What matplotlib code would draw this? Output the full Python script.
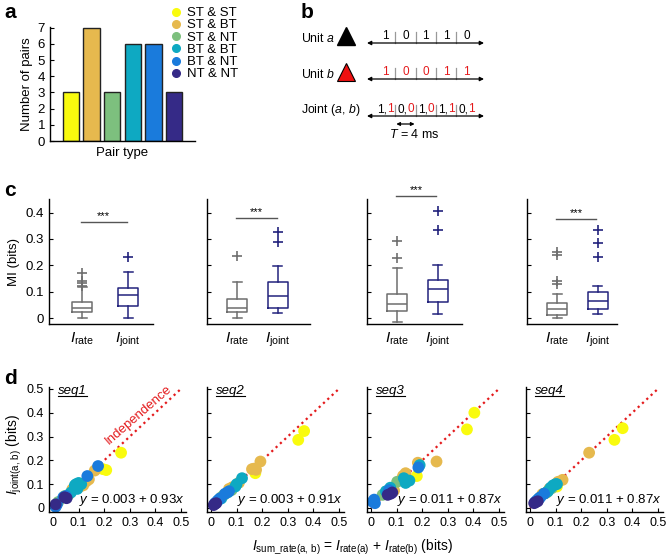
import numpy as np
import matplotlib
matplotlib.use('Agg')
import matplotlib.pyplot as plt
from matplotlib.lines import Line2D

plt.rcParams['font.family'] = ['Liberation Sans', 'DejaVu Sans']
plt.rcParams['mathtext.fontset'] = 'custom'
plt.rcParams['mathtext.rm'] = 'Liberation Sans'
plt.rcParams['mathtext.it'] = 'Liberation Sans:italic'
plt.rcParams['mathtext.bf'] = 'Liberation Sans:bold'
plt.rcParams['xtick.direction'] = 'in'
plt.rcParams['ytick.direction'] = 'in'
plt.rcParams['axes.linewidth'] = 1.0

W, H = 667, 557

# ---- panel a
pair_types = ['ST & ST', 'ST & BT', 'ST & NT', 'BT & BT', 'BT & NT', 'NT & NT']
pair_counts = [3, 7, 3, 6, 6, 3]
pair_colors = ['#F9FB0E', '#E6B94E', '#7DC07E', '#0EA9C2', '#1A7BDC', '#352A87']

# ---- panel b
unit_a = [1, 0, 1, 1, 0]
unit_b = [1, 0, 0, 1, 1]

# ---- panel c (box stats, one entry per sequence)
rate_med = [0.041, 0.041, 0.054, 0.035]
rate_q1 = [0.023, 0.023, 0.028, 0.013]
rate_q3 = [0.063, 0.072, 0.094, 0.057]
rate_lo = [0.0, 0.0, -0.014, 0.0]
rate_hi = [0.12, 0.139, 0.192, 0.092]
rate_fliers = [[0.17, 0.14, 0.132, 0.124], [0.237], [0.292, 0.23], [0.25, 0.24, 0.141, 0.131]]
joint_med = [0.089, 0.086, 0.11, 0.066]
joint_q1 = [0.048, 0.041, 0.061, 0.036]
joint_q3 = [0.116, 0.137, 0.145, 0.099]
joint_lo = [0.0, 0.02, 0.016, 0.018]
joint_hi = [0.177, 0.197, 0.2, 0.123]
joint_fliers = [[0.231], [0.325, 0.288], [0.406, 0.334], [0.334, 0.286, 0.233]]
sig_y = [0.365, 0.38, 0.462, 0.375]

# ---- panel d (pair order: 3 ST&ST, 7 ST&BT, 3 ST&NT, 6 BT&BT, 6 BT&NT, 3 NT&NT)
pair_idx = [0]*3 + [1]*7 + [2]*3 + [3]*6 + [4]*6 + [5]*3
seq_names = ['seq1', 'seq2', 'seq3', 'seq4']
fit_text = ['0.003 + 0.93', '0.003 + 0.91', '0.011 + 0.87', '0.011 + 0.87']
seq1_x = [0.195, 0.208, 0.266, 0.163, 0.14, 0.13, 0.118, 0.105, 0.075, 0.085, 0.02, 0.06, 0.045,
          0.09, 0.1, 0.085, 0.11, 0.07, 0.095, 0.176, 0.134, 0.04, 0.05, 0.01, 0.015, 0.053, 0.045, 0.01]
seq1_y = [0.163, 0.159, 0.232, 0.157, 0.12, 0.112, 0.095, 0.09, 0.078, 0.083, 0.025, 0.055, 0.05,
          0.1, 0.105, 0.095, 0.1, 0.065, 0.08, 0.176, 0.134, 0.045, 0.05, 0.005, 0.015, 0.041, 0.045, 0.015]
seq2_x = [0.341, 0.364, 0.173, 0.193, 0.16, 0.176, 0.168, 0.109, 0.083, 0.07, 0.05, 0.08, 0.04,
          0.121, 0.1, 0.095, 0.04, 0.03, 0.065, 0.025, 0.035, 0.055, 0.07, 0.015, 0.02, 0.015, 0.02, 0.01]
seq2_y = [0.286, 0.323, 0.146, 0.195, 0.163, 0.16, 0.165, 0.106, 0.087, 0.08, 0.055, 0.075, 0.045,
          0.125, 0.1, 0.09, 0.04, 0.035, 0.065, 0.03, 0.04, 0.06, 0.07, 0.02, 0.022, 0.017, 0.02, 0.012]
seq3_x = [0.404, 0.375, 0.179, 0.256, 0.183, 0.135, 0.125, 0.09, 0.083, 0.12, 0.045, 0.102, 0.06,
          0.135, 0.128, 0.19, 0.075, 0.058, 0.15, 0.185, 0.006, 0.012, 0.015, 0.065, 0.07, 0.077, 0.065, 0.083]
seq3_y = [0.40, 0.33, 0.134, 0.195, 0.19, 0.146, 0.135, 0.073, 0.078, 0.12, 0.055, 0.11, 0.07,
          0.105, 0.125, 0.18, 0.085, 0.07, 0.115, 0.17, 0.026, 0.035, 0.02, 0.06, 0.075, 0.06, 0.055, 0.065]
seq4_x = [0.362, 0.33, 0.105, 0.231, 0.127, 0.105, 0.048, 0.06, 0.11, 0.075, 0.085, 0.065, 0.035,
          0.08, 0.1, 0.09, 0.055, 0.07, 0.105, 0.02, 0.03, 0.04, 0.055, 0.025, 0.035, 0.016, 0.022, 0.03]
seq4_y = [0.335, 0.286, 0.09, 0.232, 0.118, 0.105, 0.058, 0.062, 0.11, 0.08, 0.083, 0.065, 0.04,
          0.085, 0.1, 0.095, 0.06, 0.07, 0.1, 0.025, 0.035, 0.045, 0.06, 0.03, 0.04, 0.02, 0.024, 0.028]
seq_x = [seq1_x, seq2_x, seq3_x, seq4_x]
seq_y = [seq1_y, seq2_y, seq3_y, seq4_y]

RATE_COL = '#6E6E6E'
JOINT_COL = '#23237D'
FS = 9.5


def pax(l, t, r, b):
    return fig.add_axes([l / W, 1 - b / H, (r - l) / W, (b - t) / H])


def clean(ax, fs=FS):
    ax.spines['top'].set_visible(False)
    ax.spines['right'].set_visible(False)
    ax.tick_params(labelsize=fs, length=3, width=0.8)


fig = plt.figure(figsize=(W / 100, H / 100), dpi=100)

# overlay for schematic + panel letters (pixel coords)
ov = fig.add_axes([0, 0, 1, 1])
ov.set_xlim(0, W)
ov.set_ylim(H, 0)
ov.axis('off')
ov.patch.set_alpha(0)
for lab, (px, py) in zip('abcd', [(4, 12), (301, 12), (4, 191), (4, 378)]):
    ov.text(px, py, lab, fontsize=15, fontweight='bold', va='center', ha='left')

# ---- a
ax = pax(50, 27, 195, 141)
clean(ax)
ax.bar(np.arange(1, 7), pair_counts, width=0.78, color=pair_colors, edgecolor='#222222', linewidth=1.0)
ax.set_xlim(0, 7)
ax.set_ylim(0, 7.05)
ax.set_xticks([])
ax.set_yticks(range(8))
ax.set_xlabel('Pair type', fontsize=FS, labelpad=4)
ax.set_ylabel('Number of pairs', fontsize=FS, labelpad=3)
handles = [Line2D([], [], ls='', marker='o', ms=5.5, color=c) for c in pair_colors]
ax.legend(handles, pair_types, loc='upper left', bbox_to_anchor=(172 / W, 1 - 7 / H),
          bbox_transform=fig.transFigure, frameon=False, fontsize=FS, handlelength=0.6,
          handletextpad=0.5, labelspacing=0.0, borderpad=0, borderaxespad=0)

# ---- b
FB = 8.5
cell_l, cell_w = 375, 20.3
line_y = [43, 79, 116]
rows = [('Unit $a$', 38), ('Unit $b$', 74), ('Joint $(a,\\,b)$', 110)]
for (txt, ty), ly in zip(rows, line_y):
    ov.text(301, ty, txt, fontsize=FB + 0.3, va='center', ha='left')
    ov.annotate('', xy=(484, ly), xytext=(367, ly),
                arrowprops=dict(arrowstyle='<|-|>', color='k', lw=0.9, mutation_scale=6, shrinkA=0, shrinkB=0))
    for k in range(1, 5):
        ov.plot([cell_l + k * cell_w] * 2, [ly - 11, ly], color='#999999', lw=0.9)
ov.plot(346, 36, marker='^', ms=13.5, color='k')
ov.plot(346, 72, marker='^', ms=13.5, mfc='#EE1111', mec='k', mew=0.8)
for k in range(5):
    cx = cell_l + (k + 0.5) * cell_w
    ov.text(cx, line_y[0] - 7, str(unit_a[k]), fontsize=FB, ha='center', va='center', color='k')
    ov.text(cx, line_y[1] - 7, str(unit_b[k]), fontsize=FB, ha='center', va='center', color='#E41A1C')
    ov.text(cx + 2, line_y[2] - 7, '%d,' % unit_a[k], fontsize=FB, ha='right', va='center', color='k')
    ov.text(cx + 2, line_y[2] - 7, '%d' % unit_b[k], fontsize=FB, ha='left', va='center', color='#E41A1C')
ov.annotate('', xy=(cell_l + 2 * cell_w - 1, 124), xytext=(cell_l + cell_w + 1, 124),
            arrowprops=dict(arrowstyle='<|-|>', color='k', lw=0.9, mutation_scale=5, shrinkA=0, shrinkB=0))
ov.text(414, 134, '$T$ = 4 ms', fontsize=FB + 0.5, ha='center', va='center')

# ---- c
c_boxes = [(49, 153, 0.28, 2.54), (207, 310, 0.25, 2.79), (367, 462, 0.24, 2.61), (527, 617, 0.26, 2.48)]
for i, (l, r, x0, x1) in enumerate(c_boxes):
    ax = pax(l, 199, r, 324)
    clean(ax)
    ax.set_xlim(x0, x1)
    ax.set_ylim(-0.021, 0.451)
    stats = [dict(med=rate_med[i], q1=rate_q1[i], q3=rate_q3[i], whislo=rate_lo[i], whishi=rate_hi[i],
                  fliers=rate_fliers[i]),
             dict(med=joint_med[i], q1=joint_q1[i], q3=joint_q3[i], whislo=joint_lo[i], whishi=joint_hi[i],
                  fliers=joint_fliers[i])]
    wpx = 20 / ((r - l) / (x1 - x0))
    for j, col in enumerate([RATE_COL, JOINT_COL]):
        ax.bxp([stats[j]], positions=[j + 1], widths=wpx, capwidths=wpx * 0.45, manage_ticks=False,
               boxprops=dict(color=col, lw=1.1), whiskerprops=dict(color=col, lw=1.1),
               capprops=dict(color=col, lw=1.1), medianprops=dict(color=col, lw=1.1),
               flierprops=dict(marker='+', markeredgecolor=col, markersize=7, mew=1.2))
    ax.set_xticks([1, 2])
    ax.set_xticklabels([r'$I_{\rm rate}$', r'$I_{\rm joint}$'], fontsize=11)
    ax.tick_params(axis='x', length=0, pad=5)
    ax.set_yticks([0, 0.1, 0.2, 0.3, 0.4])
    if i == 0:
        ax.set_yticklabels(['0', '0.1', '0.2', '0.3', '0.4'])
        ax.set_ylabel('MI (bits)', fontsize=FS, labelpad=4)
    else:
        ax.set_yticklabels([])
    ax.plot([1 - 0.03, 2 - 0.03], [sig_y[i]] * 2, color='#555555', lw=1.0, clip_on=False)
    ax.text(1.47, sig_y[i] + 0.004, '***', fontsize=8, ha='center', va='bottom')

# ---- d
seq_texts = []
d_left = [49, 207, 367, 526]
for i, l in enumerate(d_left):
    ax = pax(l, 387, l + 137, 512)
    clean(ax, 9)
    ax.set_xlim(-0.016, 0.52)
    ax.set_ylim(-0.017, 0.508)
    ax.plot([0, 0.5], [0, 0.5], color='#E41A1C', ls=':', lw=1.6, zorder=1)
    cols = [pair_colors[k] for k in pair_idx]
    ax.scatter(seq_x[i], seq_y[i], s=72, c=cols, edgecolors='none', zorder=2)
    ticks = [0, 0.1, 0.2, 0.3, 0.4, 0.5]
    tl = ['0', '0.1', '0.2', '0.3', '0.4', '0.5']
    ax.set_xticks(ticks)
    ax.set_xticklabels(tl)
    ax.set_yticks(ticks)
    if i == 0:
        ax.set_yticklabels(tl)
        ax.text(0.335, 0.392, 'Independence', color='#E41A1C', fontsize=9.5, rotation=41,
                ha='center', va='center', rotation_mode='anchor')
    else:
        ax.set_yticklabels([])
    t = ax.text(0.02, 0.49, seq_names[i], fontsize=FS, style='italic', ha='left', va='center')
    seq_texts.append(t)
    ax.text(0.515, 0.035, '$y$ = ' + fit_text[i] + '$x$', fontsize=9.5, ha='right', va='center')

fig.text(14 / W, 1 - 455 / H, r'$I_{\rm joint(a,\,b)}$ (bits)', fontsize=FS + 0.5, rotation=90,
         ha='center', va='center')
fig.text(352 / W, 1 - 547 / H,
         r'$I_{\rm sum\_rate(a,\,b)}$ = $I_{\rm rate(a)}$ + $I_{\rm rate(b)}$ (bits)',
         fontsize=FS + 0.5, ha='center', va='center')

# underline the seq labels
fig.canvas.draw()
inv = fig.transFigure.inverted()
for t in seq_texts:
    bb = t.get_window_extent().transformed(inv)
    fig.add_artist(Line2D([bb.x0, bb.x1], [bb.y0 + 0.002, bb.y0 + 0.002], color='k', lw=0.8,
                          transform=fig.transFigure))

fig.savefig('out.png', dpi=100)
